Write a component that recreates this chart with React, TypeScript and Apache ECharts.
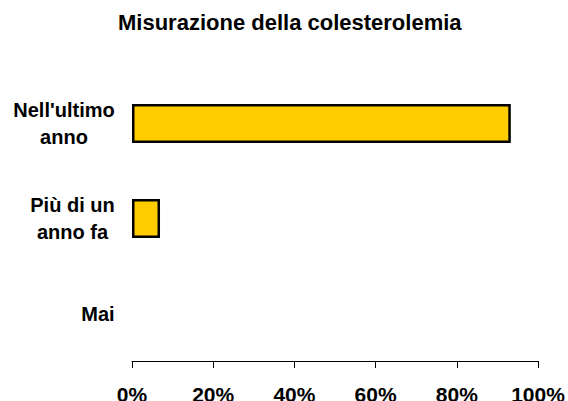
import React, { useEffect, useRef } from "react";
import * as echarts from "echarts";

const categories = ["Nell'ultimo\nanno", "Più di un\nanno fa", "Mai"];
const values = [93.3, 6.9, 0];
const xTicks = [0, 20, 40, 60, 80, 100];

const FONT = "'Liberation Sans', Arial, sans-serif";
const LABEL_SIZE = 20;

function measure(s: string): number {
  const ctx = document.createElement("canvas").getContext("2d")!;
  ctx.font = `bold ${LABEL_SIZE}px ${FONT}`;
  return Math.ceil(ctx.measureText(s).width);
}

export default function App() {
  const ref = useRef<HTMLDivElement>(null);
  useEffect(() => {
    document.body.style.margin = "0";
    const chart = echarts.init(ref.current!, null, { renderer: "svg" });
    chart.setOption({
      animation: false,
      backgroundColor: "#ffffff",
      title: {
        text: "Misurazione della colesterolemia",
        left: 113,
        top: 6,
        textStyle: { fontFamily: FONT, fontWeight: "bold", fontSize: 22, color: "#000" },
      },
      grid: {
        left: 132,
        right: 30,
        top: 76,
        bottom: 40,
        containLabel: false,
        outerBoundsMode: "none",
      },
      xAxis: {
        type: "value",
        min: xTicks[0],
        max: xTicks[xTicks.length - 1],
        interval: 20,
        axisLine: { show: true, lineStyle: { color: "#000", width: 1 } },
        axisTick: { show: true, length: 7, lineStyle: { color: "#000", width: 1 } },
        splitLine: { show: false },
        axisLabel: {
          formatter: "{value}%",
          margin: 23,
          fontFamily: FONT,
          fontWeight: "bold",
          fontSize: 21,
          color: "#000",
        },
      },
      yAxis: {
        type: "category",
        inverse: true,
        data: categories,
        axisLine: { show: false },
        axisTick: { show: false },
        axisLabel: {
          margin: 17,
          align: "right",
          formatter: (v: string) => {
            const lines = v.split("\n");
            const w = Math.max(...lines.map(measure));
            return lines.map((s) => `{c${w}|${s}}`).join("\n");
          },
          rich: Object.fromEntries(
            categories.map((c) => {
              const w = Math.max(...c.split("\n").map(measure));
              return [
                `c${w}`,
                {
                  width: w,
                  align: "center",
                  fontFamily: FONT,
                  fontWeight: "bold",
                  fontSize: LABEL_SIZE,
                  lineHeight: 27,
                  color: "#000",
                },
              ];
            })
          ),
        },
      },
      series: [
        {
          type: "bar",
          data: values.map((v) =>
            v === 0 ? { value: v, itemStyle: { borderWidth: 0 } } : v
          ),
          barCategoryGap: "59%",
          itemStyle: { color: "#FFCC00", borderColor: "#000", borderWidth: 2.5 },
        },
      ],
    });
    return () => chart.dispose();
  }, []);
  return (
    <div
      ref={ref}
      style={{ position: "fixed", left: 0, top: 0, width: 568, height: 401 }}
    />
  );
}
